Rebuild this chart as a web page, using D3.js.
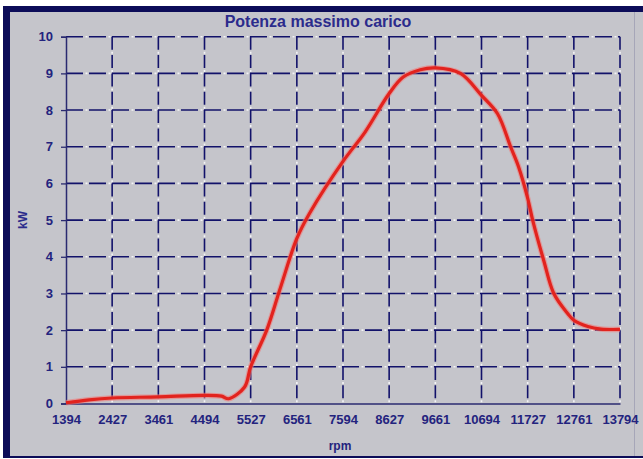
<!DOCTYPE html>
<html>
<head>
<meta charset="utf-8">
<script src="https://cdn.jsdelivr.net/npm/d3@7"></script>
<style>
  html, body { margin: 0; padding: 0; background: #fff; }
  svg { display: block; font-family: "Liberation Sans", Arial, sans-serif; }
</style>
</head>
<body>
<div id="chart"></div>
<script>
// valori
const rpmTicks = [1394, 2427, 3461, 4494, 5527, 6561, 7594, 8627, 9661, 10694, 11727, 12761, 13794];
const kwTicks = [0, 1, 2, 3, 4, 5, 6, 7, 8, 9, 10];

const curveRpm = [1394, 1911, 2427, 3461, 4494, 4876, 5033, 5392, 5527, 5887, 6179, 6561, 6853,
  7594, 8088, 8627, 8942, 9324, 9661, 10222, 10694, 11053, 11345, 11525, 11727, 11839,
  12087, 12312, 12626, 12761, 13075, 13367, 13794];
const curveKw = [0.02, 0.1, 0.15, 0.18, 0.22, 0.2, 0.13, 0.45, 1.0, 2.0, 3.1, 4.5, 5.2,
  6.6, 7.4, 8.45, 8.9, 9.1, 9.15, 9.0, 8.4, 7.9, 7.0, 6.45, 5.6, 5.0,
  3.9, 3.0, 2.45, 2.27, 2.1, 2.03, 2.02];

const W = 643, H = 459;
const navy = "#12126a", txt = "#23237e", bg = "#c5c5cb";

const svg = d3.select("#chart").append("svg").attr("width", W).attr("height", H);

// cornice
svg.append("rect").attr("x", 3).attr("y", 6).attr("width", 640).attr("height", 452).attr("fill", "#0c0c58");
svg.append("rect").attr("x", 10).attr("y", 12).attr("width", 633).attr("height", 444).attr("fill", bg);
svg.append("line").attr("x1", 634.5).attr("x2", 634.5).attr("y1", 12).attr("y2", 456)
  .attr("stroke", "#a6a6b8").attr("stroke-width", 1);

const x = d3.scaleLinear().domain([rpmTicks[0], rpmTicks[rpmTicks.length - 1]]).range([66, 620]);
const y = d3.scaleLinear().domain([0, 10]).range([403.5, 36.7]);

const g = svg.append("g");

// griglia orizzontale: trattini blu + puntini bianchi
kwTicks.filter(d => d > 0).forEach(d => {
  g.append("line").attr("x1", x.range()[0]).attr("x2", x.range()[1])
    .attr("y1", y(d)).attr("y2", y(d))
    .attr("stroke", navy).attr("stroke-width", 1.6).attr("stroke-dasharray", "17 6");
  g.append("line").attr("x1", x.range()[0]).attr("x2", x.range()[1])
    .attr("y1", y(d)).attr("y2", y(d))
    .attr("stroke", "#f4f4f8").attr("stroke-width", 1.6)
    .attr("stroke-dasharray", "2 21").attr("stroke-dashoffset", -19.5);
});

// griglia verticale
rpmTicks.slice(1).forEach(d => {
  g.append("line").attr("x1", x(d)).attr("x2", x(d))
    .attr("y1", y(10)).attr("y2", y(0))
    .attr("stroke", navy).attr("stroke-width", 1.6).attr("stroke-dasharray", "13 5.35");
  g.append("line").attr("x1", x(d)).attr("x2", x(d))
    .attr("y1", y(10)).attr("y2", y(0))
    .attr("stroke", "#f4f4f8").attr("stroke-width", 1.6)
    .attr("stroke-dasharray", "2 16.35").attr("stroke-dashoffset", -15);
});

// assi
const yAxis = g.append("g").attr("transform", `translate(${x.range()[0]},0)`)
  .call(d3.axisLeft(y).tickValues(kwTicks).tickSize(5).tickPadding(8).tickFormat(d3.format("d")));
const xAxis = g.append("g").attr("transform", `translate(0,${y(0)})`)
  .call(d3.axisBottom(x).tickValues(rpmTicks).tickSize(0).tickPadding(11).tickFormat(d => d));

[yAxis, xAxis].forEach(a => {
  a.select(".domain").attr("stroke", "#2a2a70").attr("stroke-width", 1.5);
  a.selectAll(".tick line").attr("stroke", "#2a2a70").attr("stroke-width", 1.3);
  a.selectAll("text").attr("fill", txt).style("font-size", "13px").style("font-weight", "bold");
});
xAxis.selectAll("text").attr("dy", "0.71em");

// curva potenza
const pts = curveRpm.map((r, i) => [r, curveKw[i]]);
const line = d3.line().x(d => x(d[0])).y(d => y(d[1])).curve(d3.curveCatmullRom.alpha(0.5));
g.append("path").datum(pts).attr("d", line)
  .attr("fill", "none").attr("stroke", "#f07a78").attr("stroke-width", 5.5)
  .attr("stroke-opacity", 0.6).attr("stroke-linejoin", "round");
g.append("path").datum(pts).attr("d", line)
  .attr("fill", "none").attr("stroke", "#e2231e").attr("stroke-width", 3.2)
  .attr("stroke-linejoin", "round");

// titoli
svg.append("text").attr("x", 318).attr("y", 27).attr("text-anchor", "middle")
  .attr("fill", "#2b2b8c").style("font-size", "16px").style("font-weight", "bold")
  .text("Potenza massimo carico");
svg.append("text").attr("x", 340).attr("y", 450).attr("text-anchor", "middle")
  .attr("fill", txt).style("font-size", "12px").style("font-weight", "bold")
  .text("rpm");
svg.append("text").attr("transform", "translate(27,220) rotate(-90)").attr("text-anchor", "middle")
  .attr("fill", "#2b2b8c").style("font-size", "12px").style("font-weight", "bold")
  .text("kW");
</script>
</body>
</html>
